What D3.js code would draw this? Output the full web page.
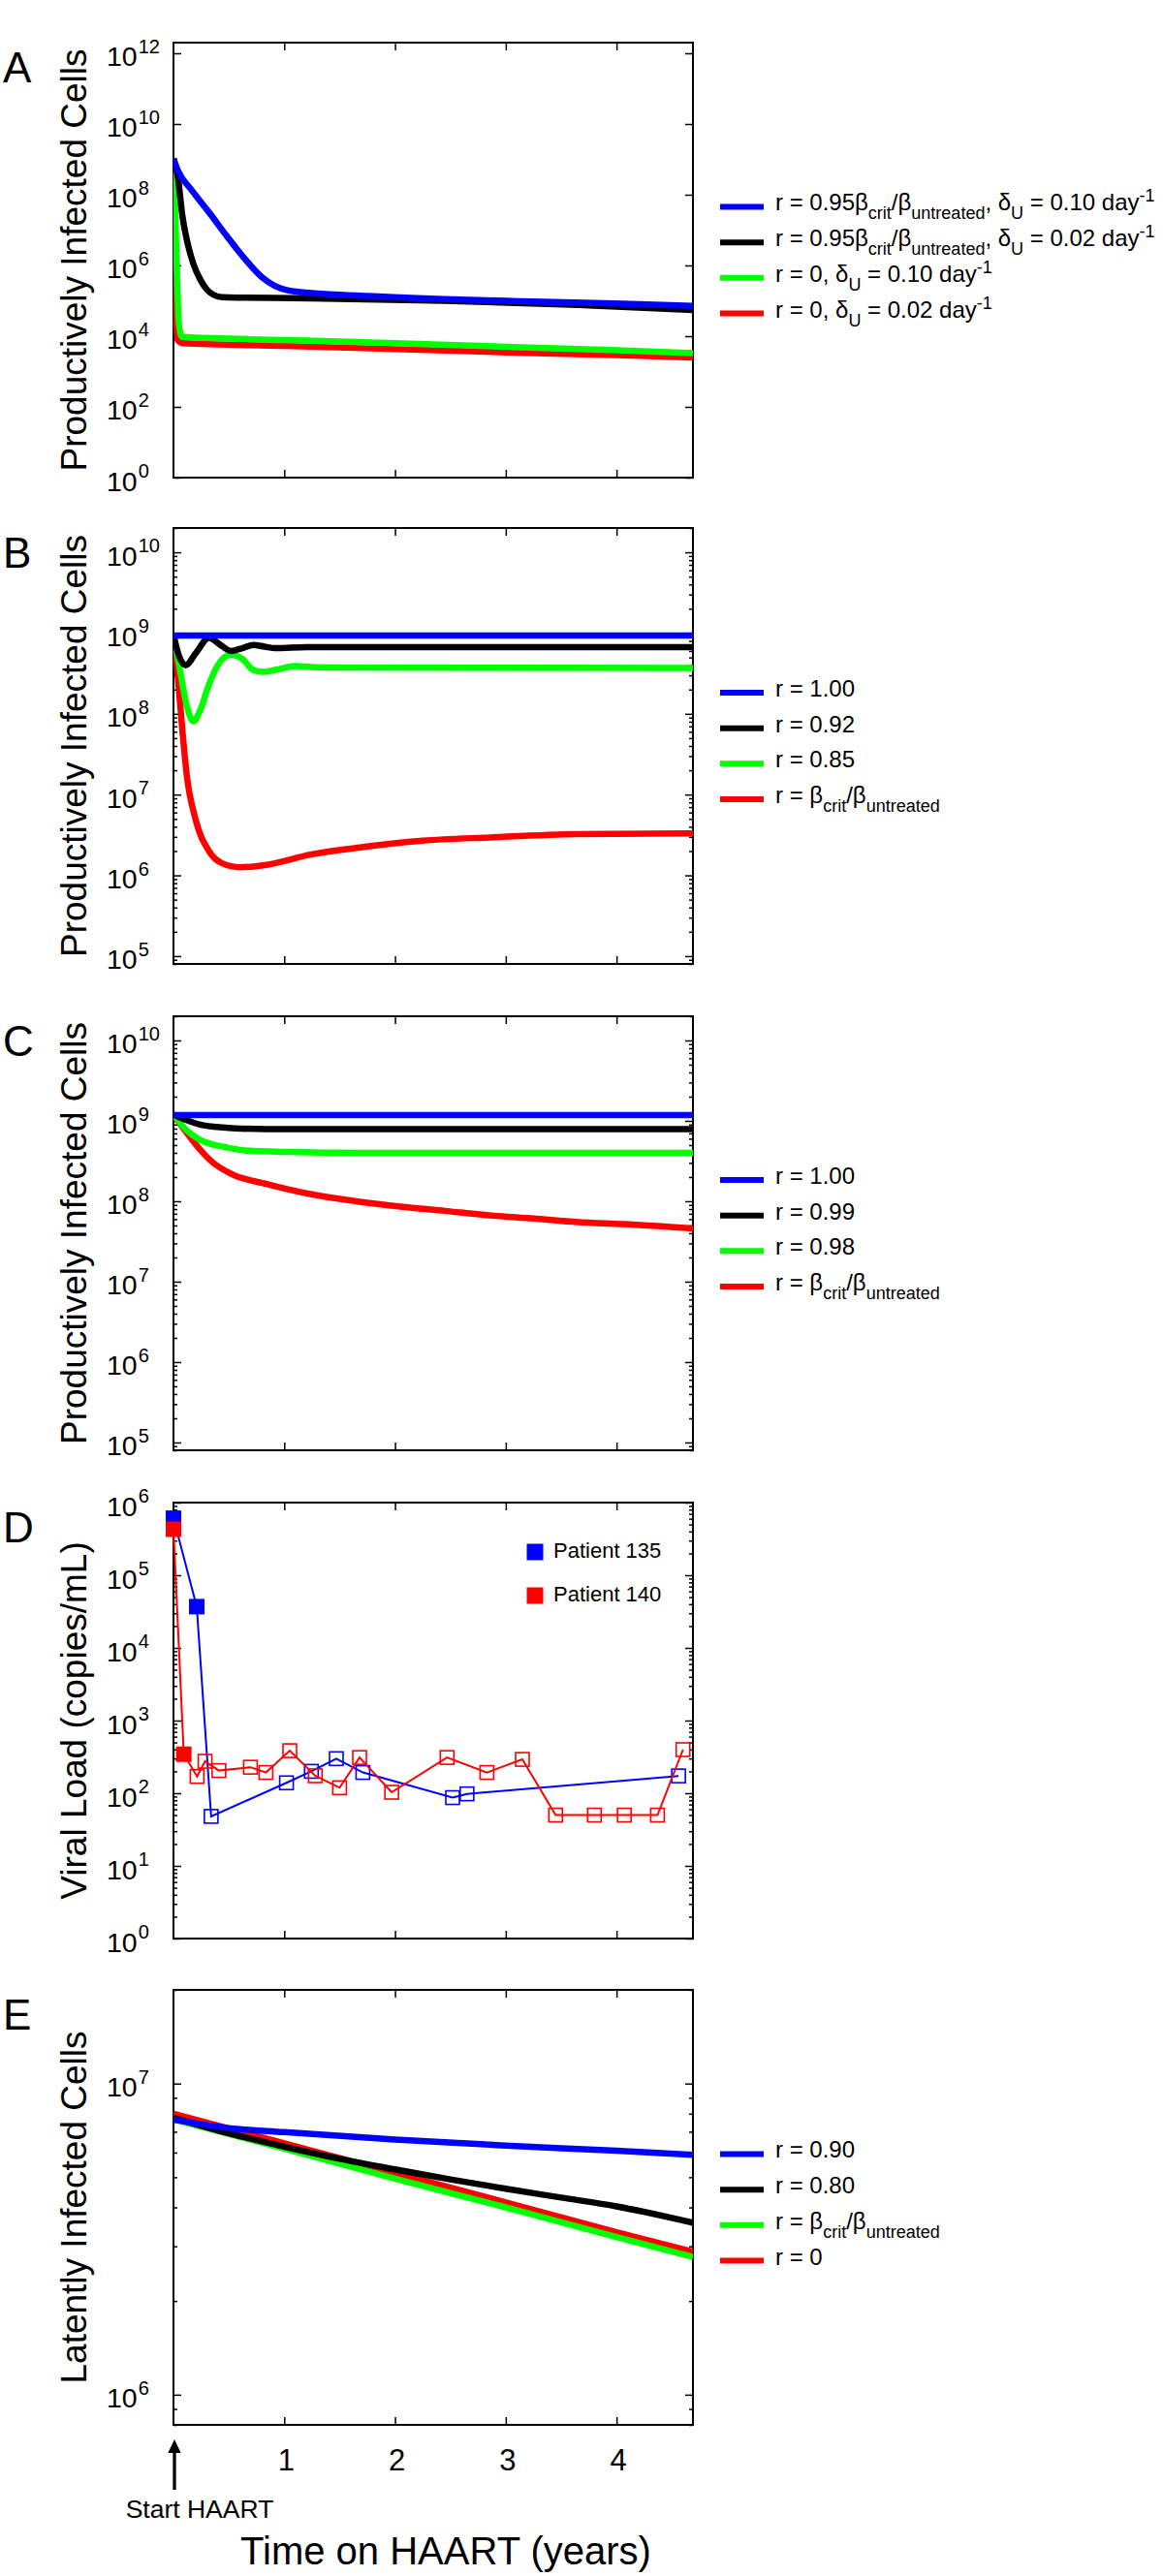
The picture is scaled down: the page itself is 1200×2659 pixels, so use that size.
<!DOCTYPE html>
<html>
<head>
<meta charset="utf-8">
<script src="https://cdn.jsdelivr.net/npm/d3@7"></script>
<style>
  body { margin: 0; background: #fff; }
  svg text { font-family: "Liberation Sans", Arial, Helvetica, sans-serif; fill: #000; }
</style>
</head>
<body>
<div id="fig"></div>
<script>
/* global d3 */

// ---- data (years on HAART, cell counts / copies per mL) ----
const xDomain = [0, 4.69]
const xTicks = [1, 2, 3, 4]

// Panel A
const aBlueT = [0, 0.04, 0.16, 0.32, 0.48, 0.64, 0.8, 0.92, 1.04, 1.245, 1.65, 2.45, 3.25, 4.06, 4.69]
const aBlueV = [1.05e9, 4.8e8, 1.4e8, 3.2e7, 6.8e6, 1.6e6, 4.6e5, 2.6e5, 1.95e5, 1.66e5, 1.41e5, 1.12e5, 9.5e4, 8.3e4, 7.2e4]
const aBlackT = [0, 0.04, 0.08, 0.12, 0.18, 0.24, 0.30, 0.36, 0.44, 0.64, 1.245, 2.45, 3.65, 4.69]
const aBlackV = [1.05e9, 3.1e8, 2.6e7, 5.4e6, 1.1e6, 4.1e5, 2.1e5, 1.48e5, 1.26e5, 1.23e5, 1.17e5, 1.0e5, 7.6e4, 5.5e4]
const aGreenT = [0, 0.02, 0.05, 0.08, 1, 2, 3, 4, 4.69]
const aGreenV = [1.05e9, 1e7, 2e4, 9.5e3, 7.8e3, 6.3e3, 5.0e3, 4.0e3, 3.3e3]
const aRedT = [0, 0.015, 0.035, 0.08, 1, 2, 3, 4, 4.69]
const aRedV = [1.05e9, 1e6, 8e3, 6.3e3, 5.3e3, 4.3e3, 3.5e3, 2.9e3, 2.5e3]

// Panel B
const bBlueT = [0, 4.69]
const bBlueV = [9.3e8, 9.3e8]
const bBlackT = [0, 0.05, 0.11, 0.2, 0.32, 0.42, 0.52, 0.62, 0.72, 0.82, 0.92, 1.2, 4.69]
const bBlackV = [9.5e8, 5.2e8, 4.0e8, 5.6e8, 8.7e8, 7.2e8, 6.0e8, 6.5e8, 7.1e8, 6.8e8, 6.5e8, 6.7e8, 6.7e8]
const bGreenT = [0, 0.06, 0.12, 0.18, 0.24, 0.32, 0.40, 0.52, 0.62, 0.72, 0.81, 0.92, 1.10, 1.33, 4.69]
const bGreenV = [9.5e8, 3.4e8, 1.26e8, 8.1e7, 1.1e8, 2.3e8, 4.0e8, 5.4e8, 4.8e8, 3.5e8, 3.3e8, 3.5e8, 3.9e8, 3.76e8, 3.7e8]
const bRedT = [0, 0.04, 0.08, 0.12, 0.2, 0.32, 0.44, 0.6, 0.84, 1.245, 1.65, 2.25, 2.85, 3.65, 4.69]
const bRedV = [9.5e8, 2.8e8, 6.3e7, 1.74e7, 4.9e6, 2.0e6, 1.41e6, 1.26e6, 1.35e6, 1.82e6, 2.19e6, 2.69e6, 2.95e6, 3.24e6, 3.31e6]

// Panel C
const cBlueT = [0, 4.69]
const cBlueV = [1.18e9, 1.18e9]
const cBlackT = [0, 0.12, 0.24, 0.44, 0.84, 4.69]
const cBlackV = [1.2e9, 1.02e9, 9.0e8, 8.3e8, 7.9e8, 7.9e8]
const cGreenT = [0, 0.12, 0.24, 0.44, 0.64, 1.04, 1.65, 4.69]
const cGreenV = [1.2e9, 7.6e8, 5.8e8, 4.8e8, 4.3e8, 4.1e8, 4.0e8, 4.0e8]
const cRedT = [0, 0.12, 0.24, 0.36, 0.52, 0.84, 1.245, 1.65, 2.05, 2.45, 2.85, 3.25, 3.65, 4.06, 4.69]
const cRedV = [1.2e9, 7.1e8, 4.4e8, 3.0e8, 2.2e8, 1.64e8, 1.22e8, 1.0e8, 8.6e7, 7.6e7, 6.7e7, 6.1e7, 5.5e7, 5.2e7, 4.6e7]

// Panel D (viral load, filled = pre-suppression samples)
const dBlueT = [0, 0.21, 0.34, 1.02, 1.245, 1.47, 1.71, 2.52, 2.65, 4.56]
const dBlueV = [6.1e5, 3.7e4, 48, 139, 200, 299, 193, 87, 98, 173]
const dBlueFilled = [1, 1, 0, 0, 0, 0, 0, 0, 0, 0]
const dRedT = [0, 0.093, 0.213, 0.285, 0.41, 0.695, 0.835, 1.05, 1.28, 1.50, 1.68, 1.97, 2.47, 2.83, 3.15, 3.45, 3.80, 4.07, 4.37, 4.60]
const dRedV = [4.3e5, 344, 170, 275, 205, 228, 193, 385, 174, 119, 310, 103, 310, 193, 292, 50, 50, 50, 50, 398]
const dRedFilled = [1, 1, 0, 0, 0, 0, 0, 0, 0, 0, 0, 0, 0, 0, 0, 0, 0, 0, 0, 0]
const dNames = ['Patient 135', 'Patient 140']

// Panel E
const eBlueT = [0, 0.5, 1, 2, 3, 4, 4.69]
const eBlueV = [7.65e6, 7.19e6, 6.98e6, 6.61e6, 6.32e6, 6.08e6, 5.90e6]
const eBlackT = [0, 0.5, 1, 1.5, 2, 2.5, 3, 3.5, 4, 4.69]
const eBlackV = [7.76e6, 6.92e6, 6.27e6, 5.73e6, 5.30e6, 4.92e6, 4.59e6, 4.30e6, 4.03e6, 3.57e6]
const eGreenT = [0, 1, 2, 3, 4, 4.69]
const eGreenV = [7.67e6, 6.18e6, 4.95e6, 4.00e6, 3.21e6, 2.77e6]
const eRedT = [0, 1, 2, 3, 4, 4.69]
const eRedV = [8.0e6, 6.43e6, 5.16e6, 4.15e6, 3.33e6, 2.88e6]

// legend labels: [text, 'sub' | 'sup' | undefined]
const legendA = [
  [['r = 0.95β'], ['crit', 'sub'], ['/β'], ['untreated', 'sub'], [', δ'], ['U', 'sub'], [' = 0.10 day'], ['-1', 'sup']],
  [['r = 0.95β'], ['crit', 'sub'], ['/β'], ['untreated', 'sub'], [', δ'], ['U', 'sub'], [' = 0.02 day'], ['-1', 'sup']],
  [['r = 0, δ'], ['U', 'sub'], [' = 0.10 day'], ['-1', 'sup']],
  [['r = 0, δ'], ['U', 'sub'], [' = 0.02 day'], ['-1', 'sup']]
]
const critLabel = [['r = β'], ['crit', 'sub'], ['/β'], ['untreated', 'sub']]
const legendB = [[['r = 1.00']], [['r = 0.92']], [['r = 0.85']], critLabel]
const legendC = [[['r = 1.00']], [['r = 0.99']], [['r = 0.98']], critLabel]
const legendE = [[['r = 0.90']], [['r = 0.80']], critLabel, [['r = 0']]]

const colors = ['#0000ff', '#000000', '#00ff00', '#ff0000']

// ---- layout ----
const W = 1200, H = 2659
const plotLeft = 179, plotRight = 715
const svg = d3.select('#fig').append('svg')
  .attr('width', W).attr('height', H)
  .style('background', '#fff')

const x = d3.scaleLinear().domain(xDomain).range([plotLeft, plotRight])

const minorTicks = (dom) => {
  const out = []
  for (let k = Math.floor(Math.log10(dom[0])); k <= Math.ceil(Math.log10(dom[1])); k++) {
    for (let m = 2; m <= 9; m++) {
      const v = m * Math.pow(10, k)
      if (v >= dom[0] && v <= dom[1]) out.push(v)
    }
  }
  return out
}

let clipId = 0

// draws box, ticks, labels; returns y scale and clipped group
let panel = (top, bottom, yDomain, majors, useMinor, letter, title) => {
  const y = d3.scaleLog().domain(yDomain).range([bottom, top])
  const g = svg.append('g')

  const tickStyle = (sel) => {
    sel.select('.domain').remove()
    sel.selectAll('line').attr('stroke', '#000').attr('stroke-width', 1.5)
  }

  // y ticks, left + right, pointing inside
  g.append('g').attr('transform', `translate(${plotLeft},0)`)
    .call(d3.axisLeft(y).tickValues(majors).tickSize(-8).tickFormat(''))
    .call(tickStyle)
  g.append('g').attr('transform', `translate(${plotRight},0)`)
    .call(d3.axisRight(y).tickValues(majors).tickSize(-8).tickFormat(''))
    .call(tickStyle)
  if (useMinor) {
    const mt = minorTicks(yDomain)
    g.append('g').attr('transform', `translate(${plotLeft},0)`)
      .call(d3.axisLeft(y).tickValues(mt).tickSize(-4).tickFormat(''))
      .call(tickStyle)
    g.append('g').attr('transform', `translate(${plotRight},0)`)
      .call(d3.axisRight(y).tickValues(mt).tickSize(-4).tickFormat(''))
      .call(tickStyle)
  }
  // x ticks, bottom + top
  g.append('g').attr('transform', `translate(0,${bottom})`)
    .call(d3.axisBottom(x).tickValues(xTicks).tickSize(-8).tickFormat(''))
    .call(tickStyle)
  g.append('g').attr('transform', `translate(0,${top})`)
    .call(d3.axisTop(x).tickValues(xTicks).tickSize(-8).tickFormat(''))
    .call(tickStyle)

  g.append('rect')
    .attr('x', plotLeft).attr('y', top)
    .attr('width', plotRight - plotLeft).attr('height', bottom - top)
    .attr('fill', 'none').attr('stroke', '#000').attr('stroke-width', 2)

  // 10^n labels, left aligned
  const lab = g.selectAll('.ylab').data(majors).enter().append('text')
    .attr('x', 110).attr('y', d => y(d) + 13.5)
    .style('font-size', '28.5px')
  lab.append('tspan').text('10')
  lab.append('tspan').attr('dx', 1).attr('dy', -13.5).style('font-size', '20px')
    .text(d => Math.round(Math.log10(d)))

  svg.append('text')
    .attr('x', 3).attr('y', top + 41)
    .style('font-size', '44px')
    .text(letter)

  svg.append('text')
    .attr('transform', `translate(89,${(top + bottom) / 2}) rotate(-90)`)
    .attr('text-anchor', 'middle')
    .style('font-size', '37px')
    .text(title)

  const id = 'clip' + (clipId++)
  svg.append('clipPath').attr('id', id).append('rect')
    .attr('x', plotLeft).attr('y', top)
    .attr('width', plotRight - plotLeft).attr('height', bottom - top)
  const plot = svg.append('g').attr('clip-path', `url(#${id})`)
  return { y, plot, top, bottom }
}

let drawCurves = (p, series) => {
  const line = d3.line()
    .x(d => x(d[0]))
    .y(d => p.y(d[1]))
    .curve(d3.curveMonotoneX)
  // red first, blue last
  series.slice().reverse().forEach((s) => {
    p.plot.append('path')
      .datum(d3.zip(s.t, s.v))
      .attr('d', line)
      .attr('fill', 'none')
      .attr('stroke', s.color)
      .attr('stroke-width', 6.5)
      .attr('stroke-linejoin', 'round')
  })
}

let drawLegend = (p, labels) => {
  const mid = (p.top + p.bottom) / 2
  labels.forEach((segs, i) => {
    const ry = mid + (i - 1.5) * 36.7
    svg.append('line')
      .attr('x1', 743).attr('x2', 788)
      .attr('y1', ry).attr('y2', ry)
      .attr('stroke', colors[i]).attr('stroke-width', 6)
    const t = svg.append('text')
      .attr('x', 800).attr('y', ry + 4)
      .style('font-size', '24px')
    let shift = 0
    segs.forEach(([txt, kind]) => {
      let target = 0
      if (kind === 'sub') target = 9
      if (kind === 'sup') target = -9
      t.append('tspan')
        .attr('dy', target - shift)
        .style('font-size', kind ? '18px' : '24px')
        .text(txt)
      shift = target
    })
  })
}

const series = (ts, vs) => ts.map((t, i) => ({ t, v: vs[i], color: colors[i] }))

// ---- panels ----
const pA = panel(44, 493, [1, 2e12], [1, 1e2, 1e4, 1e6, 1e8, 1e10, 1e12], false, 'A', 'Productively Infected Cells')
drawCurves(pA, series([aBlueT, aBlackT, aGreenT, aRedT], [aBlueV, aBlackV, aGreenV, aRedV]))
drawLegend(pA, legendA)

const pB = panel(545, 995, [8e4, 2e10], [1e5, 1e6, 1e7, 1e8, 1e9, 1e10], true, 'B', 'Productively Infected Cells')
drawCurves(pB, series([bBlueT, bBlackT, bGreenT, bRedT], [bBlueV, bBlackV, bGreenV, bRedV]))
drawLegend(pB, legendB)

const pC = panel(1049, 1497, [8e4, 2e10], [1e5, 1e6, 1e7, 1e8, 1e9, 1e10], true, 'C', 'Productively Infected Cells')
drawCurves(pC, series([cBlueT, cBlackT, cGreenT, cRedT], [cBlueV, cBlackV, cGreenV, cRedV]))
drawLegend(pC, legendC)

const pD = panel(1551, 2001, [1, 1e6], [1, 1e1, 1e2, 1e3, 1e4, 1e5, 1e6], true, 'D', 'Viral Load (copies/mL)')
const patients = [
  { t: dBlueT, v: dBlueV, f: dBlueFilled, color: colors[0] },
  { t: dRedT, v: dRedV, f: dRedFilled, color: colors[3] }
]
const dLine = d3.line().x(d => x(d[0])).y(d => pD.y(d[1]))
patients.forEach((pt) => {
  const pts = d3.zip(pt.t, pt.v, pt.f)
  svg.append('path')
    .datum(pts)
    .attr('d', dLine)
    .attr('fill', 'none')
    .attr('stroke', pt.color)
    .attr('stroke-width', 2)
  svg.selectAll(null).data(pts).enter().append('rect')
    .attr('x', d => x(d[0]) - (d[2] ? 8 : 7))
    .attr('y', d => pD.y(d[1]) - (d[2] ? 8 : 7))
    .attr('width', d => d[2] ? 16 : 14)
    .attr('height', d => d[2] ? 16 : 14)
    .attr('fill', d => d[2] ? pt.color : 'none')
    .attr('stroke', pt.color)
    .attr('stroke-width', d => d[2] ? 0 : 1.6)
})
dNames.forEach((name, i) => {
  const ry = 1602 + i * 45
  svg.append('rect')
    .attr('x', 543.5).attr('y', ry - 8.5)
    .attr('width', 17).attr('height', 17)
    .attr('fill', patients[i].color)
  svg.append('text')
    .attr('x', 571).attr('y', ry + 6)
    .style('font-size', '22px')
    .text(name)
})

const pE = panel(2054, 2503, [8e5, 2e7], [1e6, 1e7], true, 'E', 'Latently Infected Cells')
drawCurves(pE, series([eBlueT, eBlackT, eGreenT, eRedT], [eBlueV, eBlackV, eGreenV, eRedV]))
drawLegend(pE, legendE)

// x tick labels under panel E
svg.selectAll('.xlab').data(xTicks).enter().append('text')
  .attr('x', d => x(d) + 2)
  .attr('y', 2550)
  .attr('text-anchor', 'middle')
  .style('font-size', '31px')
  .text(d => d)

// start HAART arrow
const ax = x(0) + 1
svg.append('line')
  .attr('x1', ax).attr('x2', ax)
  .attr('y1', 2570).attr('y2', 2528)
  .attr('stroke', '#000').attr('stroke-width', 3.3)
svg.append('path')
  .attr('d', `M${ax},2518 L${ax - 6.7},2532 L${ax + 6.7},2532 Z`)
  .attr('fill', '#000')
svg.append('text')
  .attr('x', 206).attr('y', 2599)
  .attr('text-anchor', 'middle')
  .style('font-size', '26.5px')
  .text('Start HAART')

svg.append('text')
  .attr('x', 460).attr('y', 2647)
  .attr('text-anchor', 'middle')
  .style('font-size', '40px')
  .text('Time on HAART (years)')
</script>
</body>
</html>
